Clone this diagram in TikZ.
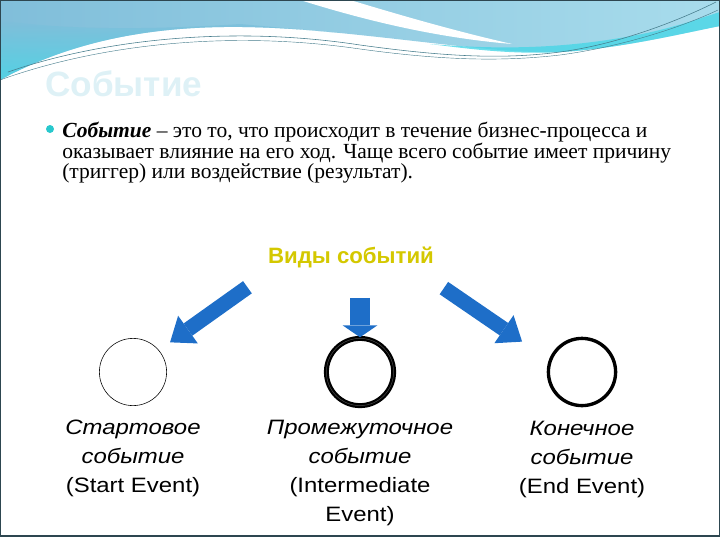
\documentclass[tikz,border=0pt]{standalone}
\usepackage{fontspec}
\setmainfont{Liberation Serif}
\setsansfont{Liberation Sans}
\newfontfamily\labelfont[FakeStretch=1.15]{Liberation Sans}
\usetikzlibrary{positioning,calc,arrows.meta}

\definecolor{bandtop}{RGB}{128,190,218}
\definecolor{bandlow}{RGB}{72,214,230}
\definecolor{bandlight}{RGB}{168,220,236}
\definecolor{waveline}{RGB}{70,125,140}
\definecolor{titlecol}{RGB}{222,241,246}
\definecolor{bulletcol}{RGB}{40,200,205}
\definecolor{kindcol}{RGB}{212,200,0}
\definecolor{arrowcol}{RGB}{30,110,200}
\definecolor{framecol}{RGB}{45,70,80}

\tikzset{
  event/.style={circle, draw=black, fill=white, minimum size=1.68cm, inner sep=0pt},
  evlabel/.style={font=\labelfont\fontsize{14.8pt}{20.6pt}\selectfont, align=center, inner sep=0pt},
  kindarrow/.style={arrowcol, line width=0.375cm, -{Triangle[length=0.55cm,width=0.85cm,line width=0pt]}},
}

\begin{document}
\begin{tikzpicture}[x=0.025cm,y=-0.025cm]
\useasboundingbox (0,0) rectangle (720,540);
% header
\shade[left color=bandtop, right color=bandlight] (0,0) -- (720,0) -- (720,26)
  .. controls (680,34) and (630,46) .. (575,51)
  .. controls (520,56) and (450,44) .. (340,33)
  .. controls (230,22) and (110,20) .. (0,80) -- cycle;
\shade[top color=bandtop, bottom color=bandlow, opacity=0.8] (0,20) .. controls (60,30) and (150,30) .. (240,24)
  -- (340,33) .. controls (230,22) and (110,20) .. (0,80) -- cycle;
\fill[bandlow, opacity=0.8] (430,44) .. controls (500,50) and (560,48) .. (620,38)
  .. controls (670,30) and (700,18) .. (720,12) -- (720,26)
  .. controls (680,34) and (630,46) .. (575,51)
  .. controls (520,56) and (470,49) .. (430,44) -- cycle;
\fill[white] (300,0) .. controls (370,22) and (440,38) .. (512,44)
  .. controls (450,30) and (390,12) .. (350,0) -- cycle;
\draw[waveline, line width=0.4pt] (8,72) .. controls (100,40) and (230,25) .. (360,45)
  .. controls (440,56) and (500,60) .. (560,52) .. controls (620,44) and (680,20) .. (716,2);
\draw[waveline, line width=0.3pt] (0,80) .. controls (100,44) and (230,30) .. (360,49)
  .. controls (440,60) and (500,62) .. (560,55) .. controls (620,47) and (680,28) .. (718,10);
\draw[framecol, line width=1.4pt] (0.5,0.5) rectangle (719.5,536);

\node[anchor=base west, inner sep=0pt, text=titlecol, font=\sffamily\bfseries\fontsize{25pt}{30pt}\selectfont] (title) at (45,96) {Событие};

\fill[bulletcol] (50,129) circle[radius=4];
\node[anchor=north west, inner sep=0pt, align=left, font=\fontsize{15.3pt}{14.6pt}\selectfont] (def) at (62,122)
  {\textbf{\textit{Событие}} – это то, что происходит в течение бизнес-процесса и\\
   оказывает влияние на его ход. Чаще всего событие имеет причину\\
   (триггер) или воздействие (результат).};

\node[inner sep=0pt, text=kindcol, font=\sffamily\bfseries\fontsize{15.8pt}{18pt}\selectfont] (types) at (351,257) {Виды событий};

\node[event, thin] (startev) at (133,372) {};
\node[event, line width=1.6pt, double=black!70, double distance=0.35pt] (midev) at (360,372) {};
\node[event, line width=2.4pt] (endev) at (582,372) {};

\draw[kindarrow, shorten <=0.84cm, shorten >=0.34cm] ($(types.south west)+(7,0)$) -- (startev.40);
\draw[kindarrow, line width=0.5cm, -{Triangle[length=0.3cm,width=0.875cm,line width=0pt]}, shorten <=0.75cm] (midev.north |- types.south) -- (midev.north);
\draw[kindarrow, shorten <=0.9cm, shorten >=0.81cm] ($(types.south east)+(-20,0)$) -- (endev.160);

\node[evlabel, below=0.34cm of startev] (startlbl) {\itshape Стартовое\\\itshape событие\\(Start Event)};
\node[evlabel, below=0.32cm of midev] (midlbl) {\itshape Промежуточное\\\itshape событие\\(Intermediate\\Event)};
\node[evlabel, below=0.34cm of endev] (endlbl) {\itshape Конечное\\\itshape событие\\(End Event)};
\end{tikzpicture}
\end{document}
